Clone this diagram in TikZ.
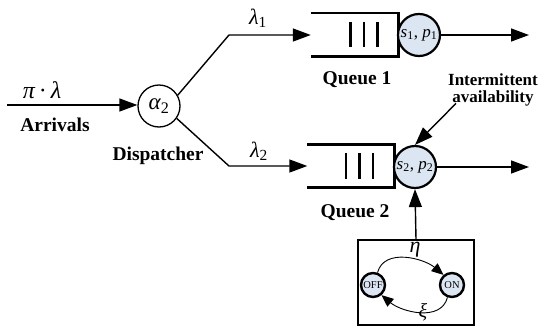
\documentclass[tikz,border=0pt]{standalone}
\usepackage{fontspec}
\setmainfont{Liberation Serif}
\usetikzlibrary{arrows.meta}
\definecolor{srvfill}{HTML}{DCE6F2}

\newcommand{\gk}[1]{{\itshape #1}}

\begin{document}
\begin{tikzpicture}[x=1pt,y=-1pt,
  conn/.style={line width=1.4pt},
  tip/.style={-{Triangle[length=18pt,width=13pt]}},
  smalltip/.style={-{Triangle[length=12pt,width=10pt]}},
  qline/.style={line width=2.6pt},
  bar/.style={line width=2.6pt},
  qbox/.style={rectangle, minimum width=87pt, minimum height=43pt, inner sep=0pt},
  dispnode/.style={circle, draw, line width=1.3pt, minimum size=42pt, inner sep=0pt, font=\fontsize{23}{23}\selectfont},
  server/.style={circle, draw, line width=2.2pt, fill=srvfill, minimum size=42pt, inner sep=0pt, font=\fontsize{17}{17}\selectfont},
  state/.style={circle, draw, line width=2.4pt, fill=srvfill, minimum size=24pt, inner sep=0pt, font=\fontsize{10.5}{10.5}\selectfont},
  lbl/.style={font=\fontsize{19.5}{19.5}\selectfont\bfseries, inner sep=0pt},
  note/.style={font=\fontsize{17}{17}\selectfont\bfseries, align=center, inner sep=0pt},
  greek/.style={font=\fontsize{22}{22}\selectfont, inner sep=0pt},
  ctrl/.style={rectangle, draw, line width=1.4pt, minimum width=116pt, minimum height=85pt, inner sep=0pt}
]
\useasboundingbox (0,0) rectangle (541,327);

% dispatcher and incoming stream
\node[dispnode] (disp) at (159,106) {\gk{α}\textsubscript{2}};
\coordinate (src) at (7,105);
\draw[conn,tip] (src) -- (disp.west |- src);
\node[greek] (rate) at (42,90) {\fontsize{24}{24}\selectfont\gk{π}\,·\,\gk{λ}};
\node[lbl] (arr) at (55,125) {Arrivals};
\node[lbl] (displbl) at (158,156) {Dispatcher};

% queue 1
\node[qbox] (q1) at (354.5,34.5) {};
\draw[qline] (q1.north west) -- (q1.north east) -- (q1.south east) -- (q1.south west);
\foreach \dx in {-4,9.5,23}
  \draw[bar] ([xshift=\dx pt,yshift=-9pt]q1.north) -- ([xshift=\dx pt,yshift=9pt]q1.south);
\node[server] (s1) at (419,35) {\gk{s}\textsubscript{1}, \gk{p}\textsubscript{1}};
\coordinate (out1) at (529,35);
\draw[conn,tip] (s1.east) -- (out1);
\node[lbl] (q1lbl) at (357,80) {Queue 1};

% queue 2
\node[qbox] (q2) at (351,166) {};
\draw[qline] (q2.north west) -- (q2.north east) -- (q2.south east) -- (q2.south west);
\foreach \dx in {-5,8.5,22}
  \draw[bar] ([xshift=\dx pt,yshift=-9pt]q2.north) -- ([xshift=\dx pt,yshift=9pt]q2.south);
\node[server] (s2) at (415,167) {\gk{s}\textsubscript{2}, \gk{p}\textsubscript{2}};
\coordinate (out2) at (529,167);
\draw[conn,tip] (s2.east) -- (out2);
\node[lbl] (q2lbl) at (355,213) {Queue 2};

% branches from the dispatcher
\coordinate (b1) at (229,35);
\coordinate (b2) at (229,166);
\draw[conn,tip] (disp.30) -- (b1) -- (q1.west |- b1);
\draw[conn,tip] (disp.-35) -- (b2) -- (q2.west |- b2);
\node[greek] (l1) at (258,18) {\gk{λ}\textsubscript{1}};
\node[greek] (l2) at (259,151) {\gk{λ}\textsubscript{2}};

% intermittent availability
\node[note] (avail) at (493,90) {Intermittent\\availability};
\coordinate (at) at ([xshift=8pt,yshift=3pt]avail.south west);
\draw[conn,tip] (at) -- (s2.north);

% on/off availability process
\node[ctrl] (ctl) at (416,282.5) {};
\draw[conn,tip] (ctl.north) -- (s2.south);
\node[state] (off) at (373,285) {OFF};
\node[state] (on) at (452,285) {ON};
\draw[line width=0.9pt,smalltip] (off.70) to[out=75,in=140] (on.130);
\draw[line width=0.9pt,smalltip] (on.-110) to[out=-105,in=-40] (off.-50);
\node[greek] (eta) at (415,250) {\gk{η}};
\node[greek] (xi) at (423,312) {\fontsize{20}{20}\selectfont\gk{ξ}};
\end{tikzpicture}
\end{document}
